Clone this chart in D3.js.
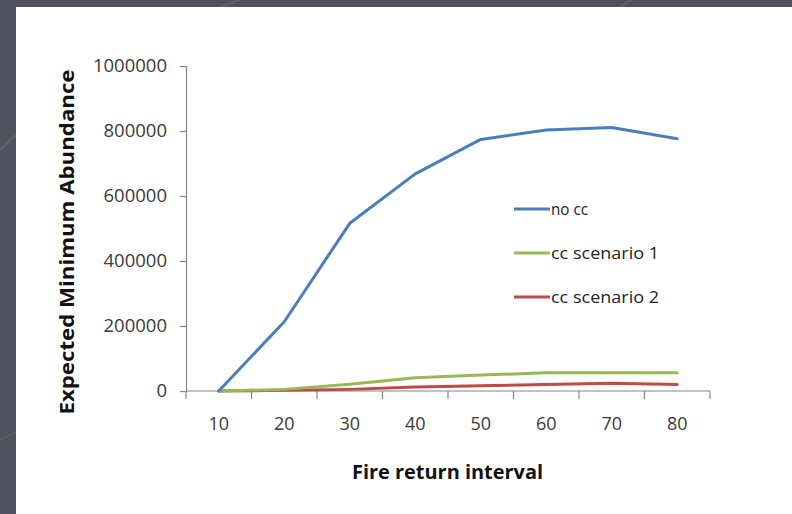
<!DOCTYPE html>
<html>
<head>
<meta charset="utf-8">
<script src="https://cdn.jsdelivr.net/npm/d3@7"></script>
<style>
  html, body { margin: 0; padding: 0; background: #4f5261; }
  svg { display: block; }
</style>
</head>
<body>
<svg id="chart" width="792" height="514"></svg>
<script>
// Fire return interval (years) along the x axis
const intervals = [10, 20, 30, 40, 50, 60, 70, 80];

// Expected minimum abundance for each scenario
const noCC      = [0, 213000, 516000, 668000, 774000, 803000, 811000, 776000];
const ccScen1   = [0, 5000, 21000, 41000, 49000, 56000, 56000, 56000];
const ccScen2   = [0, 2000, 5000, 12000, 16000, 20000, 24000, 20000];

const seriesNames = ["no cc", "cc scenario 1", "cc scenario 2"];
const seriesColors = ["#4a7ebb", "#98b954", "#be4b48"];
const yTicks = [0, 200000, 400000, 600000, 800000, 1000000];

const series = [noCC, ccScen1, ccScen2].map((vals, i) => ({
  name: seriesNames[i],
  color: seriesColors[i],
  values: vals.map((v, j) => ({ x: intervals[j], y: v }))
}));

const svg = d3.select("#chart");
const W = 792, H = 514;

// slide backdrop with a few faint sweeping strokes
svg.append("rect").attr("width", W).attr("height", H).attr("fill", "#50525f");
const deco = svg.append("g").attr("fill", "none").attr("stroke", "#ffffff").attr("stroke-opacity", 0.08).attr("stroke-width", 2);
deco.append("path").attr("d", "M0,150 Q10,140 16,135");
deco.append("path").attr("d", "M0,440 Q8,436 16,432");
deco.append("path").attr("d", "M220,7 Q240,0 250,-5");
deco.append("path").attr("d", "M620,7 Q630,0 640,-5");
svg.append("rect").attr("x", 16).attr("y", 7).attr("width", W - 16).attr("height", H - 7).attr("fill", "#ffffff");

const plot = { left: 186, right: 710, top: 66, bottom: 391 };

const x = d3.scaleBand().domain(intervals).range([plot.left, plot.right]);
const y = d3.scaleLinear().domain([0, 1000000]).range([plot.bottom, plot.top]);

const axisColor = "#868686";
const labelFont = "'Open Sans', 'Noto Sans', sans-serif";

// y axis
const yAxis = svg.append("g")
  .attr("transform", `translate(${plot.left},0)`)
  .call(d3.axisLeft(y).tickValues(yTicks).tickFormat(d3.format("d")).tickSize(6).tickPadding(13));
yAxis.select(".domain").attr("stroke", axisColor).attr("stroke-width", 1.2);
yAxis.selectAll(".tick line").attr("stroke", axisColor).attr("stroke-width", 1.2);
yAxis.selectAll(".tick text")
  .attr("fill", "#3a3a3a").style("font-family", labelFont).style("font-size", "18.5px");

// x axis: tick marks sit on category boundaries, labels in the band centres
const xAxisG = svg.append("g").attr("transform", `translate(0,${plot.bottom})`);
xAxisG.append("line")
  .attr("x1", plot.left).attr("x2", plot.right)
  .attr("stroke", axisColor).attr("stroke-width", 1.2);
const boundaries = intervals.map(d => x(d)).concat([x(intervals[intervals.length - 1]) + x.bandwidth()]);
xAxisG.selectAll("line.tk").data(boundaries).join("line")
  .attr("class", "tk")
  .attr("x1", d => d).attr("x2", d => d).attr("y1", 0).attr("y2", 8)
  .attr("stroke", axisColor).attr("stroke-width", 1.2);
xAxisG.selectAll("text").data(intervals).join("text")
  .attr("x", d => x(d) + x.bandwidth() / 2)
  .attr("y", 39)
  .attr("text-anchor", "middle")
  .attr("fill", "#3a3a3a")
  .style("font-family", labelFont).style("font-size", "18px")
  .text(d => d);

// series lines
const line = d3.line()
  .x(d => x(d.x) + x.bandwidth() / 2)
  .y(d => y(d.y));

svg.append("g").selectAll("path").data(series.slice().reverse()).join("path")
  .attr("d", d => line(d.values))
  .attr("fill", "none")
  .attr("stroke", d => d.color)
  .attr("stroke-width", 3)
  .attr("stroke-linejoin", "round")
  .attr("stroke-linecap", "round");

// legend
const legend = svg.append("g").attr("transform", "translate(514,209)");
const items = legend.selectAll("g").data(series).join("g")
  .attr("transform", (d, i) => `translate(0,${i * 44})`);
items.append("line")
  .attr("x1", 0).attr("x2", 36)
  .attr("stroke", d => d.color).attr("stroke-width", 3);
items.append("text")
  .attr("x", 37).attr("y", 6)
  .attr("fill", "#222")
  .style("font-family", labelFont).style("font-size", "16px")
  .attr("textLength", d => d.name === "no cc" ? 37 : 108)
  .attr("lengthAdjust", "spacingAndGlyphs")
  .text(d => d.name);

// axis titles
svg.append("text")
  .attr("x", 447.5).attr("y", 479)
  .attr("text-anchor", "middle")
  .attr("fill", "#111")
  .style("font-family", labelFont).style("font-size", "19px").style("font-weight", "bold")
  .attr("textLength", 191).attr("lengthAdjust", "spacingAndGlyphs")
  .text("Fire return interval");

svg.append("text")
  .attr("transform", "translate(74,242) rotate(-90)")
  .attr("text-anchor", "middle")
  .attr("fill", "#111")
  .style("font-family", labelFont).style("font-size", "19px").style("font-weight", "bold")
  .attr("textLength", 345).attr("lengthAdjust", "spacingAndGlyphs")
  .text("Expected Minimum Abundance");
</script>
</body>
</html>
